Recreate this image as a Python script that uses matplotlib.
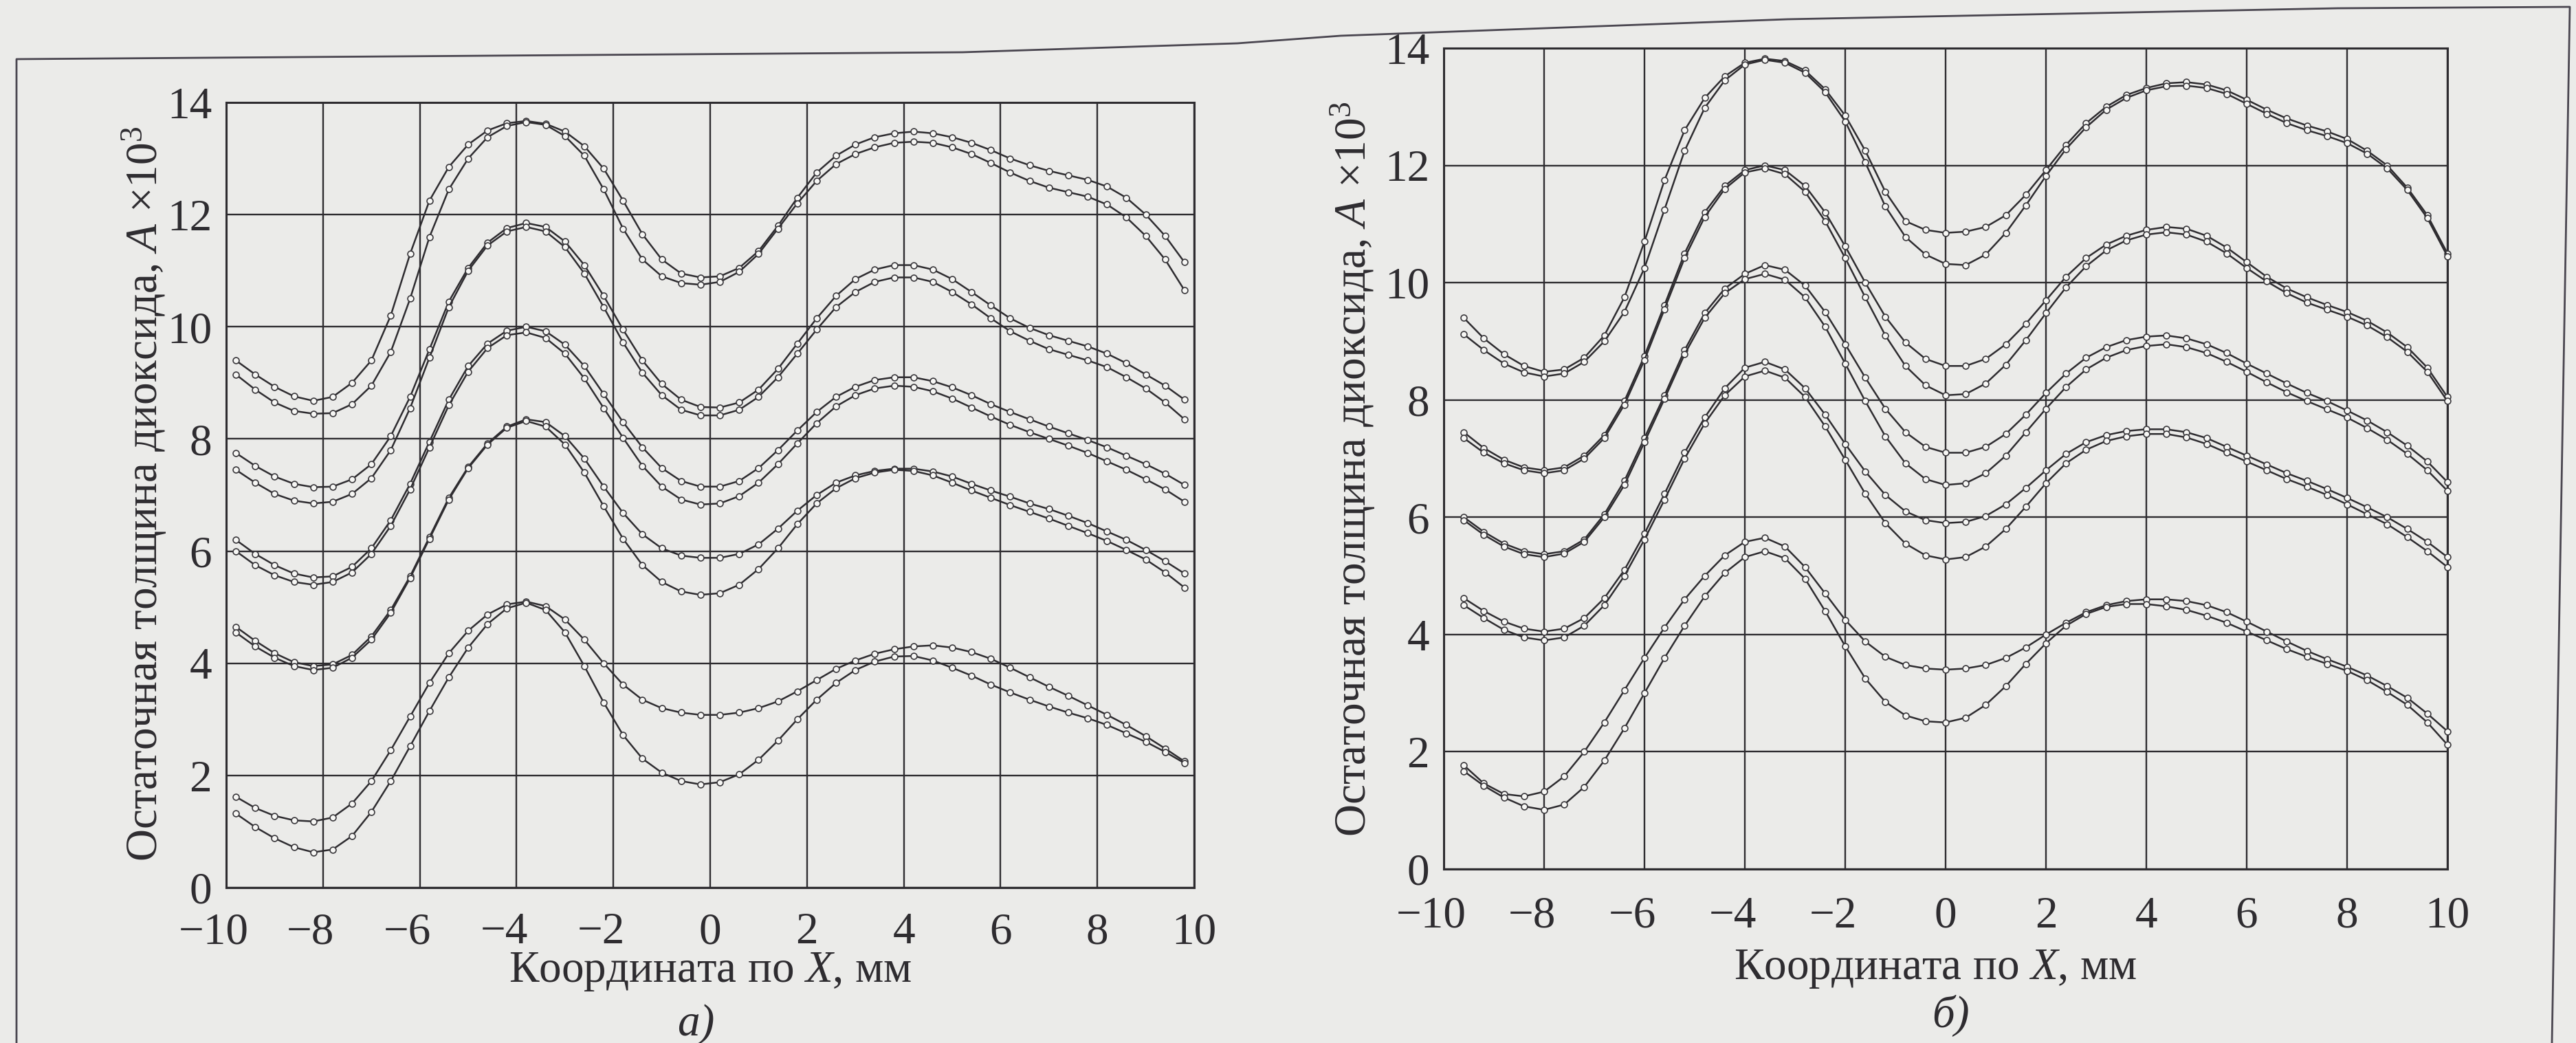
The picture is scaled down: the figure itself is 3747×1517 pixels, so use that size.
import matplotlib.pyplot as plt
import matplotlib.transforms as mtransforms
from matplotlib.lines import Line2D
import numpy as np

plt.rcParams['font.family'] = ['Liberation Serif', 'DejaVu Serif']
plt.rcParams['mathtext.fontset'] = 'custom'
plt.rcParams['mathtext.rm'] = 'Liberation Serif'
plt.rcParams['mathtext.it'] = 'Liberation Serif:italic'

# sample positions, mm (markers every 0.4 mm)
x_a = np.linspace(-9.8, 9.8, 50)
x_b = np.linspace(-9.6, 10.0, 50)

x_ticks = [-10, -8, -6, -4, -2, 0, 2, 4, 6, 8, 10]
y_ticks = [0, 2, 4, 6, 8, 10, 12, 14]

# ---- panel a) ----
a_p1_1 = [9.40, 9.15, 8.93, 8.76, 8.68, 8.75, 9.00, 9.40, 10.20, 11.30,
          12.25, 12.85, 13.25, 13.50, 13.63, 13.67, 13.62, 13.48, 13.22, 12.82,
          12.25, 11.65, 11.20, 10.95, 10.88, 10.90, 11.05, 11.35, 11.80, 12.30,
          12.75, 13.05, 13.25, 13.38, 13.45, 13.48, 13.45, 13.38, 13.28, 13.15,
          13.00, 12.88, 12.78, 12.70, 12.62, 12.50, 12.30, 12.00, 11.62, 11.15]
a_p1_2 = [9.15, 8.88, 8.65, 8.50, 8.45, 8.46, 8.62, 8.95, 9.55, 10.50,
          11.60, 12.45, 13.00, 13.38, 13.58, 13.65, 13.60, 13.40, 13.05, 12.45,
          11.75, 11.20, 10.90, 10.78, 10.75, 10.80, 10.98, 11.30, 11.75, 12.20,
          12.60, 12.90, 13.08, 13.20, 13.28, 13.30, 13.28, 13.20, 13.08, 12.92,
          12.75, 12.60, 12.48, 12.40, 12.32, 12.18, 11.95, 11.62, 11.20, 10.65]
a_p2_1 = [7.75, 7.52, 7.33, 7.20, 7.14, 7.15, 7.28, 7.55, 8.05, 8.75,
          9.60, 10.45, 11.05, 11.50, 11.76, 11.85, 11.78, 11.52, 11.10, 10.55,
          9.95, 9.40, 8.98, 8.70, 8.57, 8.56, 8.65, 8.88, 9.25, 9.70,
          10.15, 10.55, 10.85, 11.02, 11.10, 11.10, 11.02, 10.85, 10.62, 10.38,
          10.15, 9.98, 9.85, 9.75, 9.65, 9.52, 9.35, 9.15, 8.95, 8.70]
a_p2_2 = [7.45, 7.22, 7.02, 6.90, 6.85, 6.88, 7.02, 7.30, 7.80, 8.55,
          9.45, 10.35, 11.00, 11.45, 11.70, 11.78, 11.70, 11.42, 10.95, 10.35,
          9.72, 9.18, 8.78, 8.52, 8.42, 8.42, 8.52, 8.75, 9.10, 9.52,
          9.95, 10.35, 10.62, 10.80, 10.88, 10.88, 10.80, 10.62, 10.40, 10.15,
          9.92, 9.75, 9.60, 9.50, 9.40, 9.28, 9.10, 8.90, 8.65, 8.35]
a_p3_1 = [6.20, 5.95, 5.75, 5.60, 5.53, 5.55, 5.72, 6.05, 6.55, 7.20,
          7.95, 8.70, 9.30, 9.70, 9.93, 10.00, 9.92, 9.68, 9.30, 8.80,
          8.30, 7.85, 7.48, 7.25, 7.15, 7.15, 7.25, 7.48, 7.80, 8.15,
          8.48, 8.75, 8.93, 9.05, 9.10, 9.10, 9.03, 8.92, 8.78, 8.62,
          8.48, 8.35, 8.22, 8.10, 7.98, 7.85, 7.70, 7.55, 7.38, 7.18]
a_p3_2 = [6.00, 5.75, 5.57, 5.45, 5.40, 5.45, 5.62, 5.95, 6.45, 7.10,
          7.85, 8.60, 9.20, 9.62, 9.85, 9.90, 9.80, 9.52, 9.08, 8.55,
          8.02, 7.52, 7.15, 6.92, 6.83, 6.85, 6.98, 7.22, 7.55, 7.92,
          8.28, 8.58, 8.78, 8.90, 8.95, 8.93, 8.85, 8.72, 8.56, 8.40,
          8.25, 8.12, 8.00, 7.88, 7.75, 7.60, 7.45, 7.28, 7.10, 6.88]
a_p4_1 = [4.65, 4.40, 4.18, 4.02, 3.95, 3.98, 4.15, 4.48, 4.95, 5.55,
          6.25, 6.95, 7.50, 7.92, 8.22, 8.35, 8.30, 8.05, 7.65, 7.15,
          6.68, 6.30, 6.05, 5.92, 5.88, 5.88, 5.95, 6.12, 6.40, 6.72,
          7.00, 7.22, 7.35, 7.43, 7.47, 7.47, 7.42, 7.33, 7.20, 7.08,
          6.97, 6.85, 6.75, 6.63, 6.50, 6.35, 6.20, 6.02, 5.82, 5.60]
a_p4_2 = [4.55, 4.30, 4.10, 3.95, 3.88, 3.92, 4.10, 4.42, 4.90, 5.52,
          6.22, 6.92, 7.48, 7.90, 8.20, 8.32, 8.22, 7.90, 7.40, 6.80,
          6.22, 5.75, 5.45, 5.28, 5.22, 5.25, 5.40, 5.68, 6.05, 6.48,
          6.85, 7.12, 7.30, 7.40, 7.45, 7.43, 7.35, 7.22, 7.08, 6.95,
          6.82, 6.70, 6.58, 6.45, 6.32, 6.18, 6.02, 5.85, 5.62, 5.35]
a_p5_1 = [1.62, 1.42, 1.28, 1.20, 1.18, 1.25, 1.50, 1.90, 2.45, 3.05,
          3.65, 4.18, 4.58, 4.87, 5.05, 5.10, 5.02, 4.78, 4.42, 4.00,
          3.62, 3.35, 3.20, 3.12, 3.08, 3.08, 3.12, 3.20, 3.32, 3.50,
          3.70, 3.90, 4.05, 4.17, 4.25, 4.30, 4.32, 4.28, 4.20, 4.08,
          3.92, 3.75, 3.58, 3.42, 3.25, 3.08, 2.90, 2.70, 2.48, 2.25]
a_p5_2 = [1.32, 1.08, 0.88, 0.72, 0.63, 0.68, 0.92, 1.35, 1.90, 2.52,
          3.15, 3.75, 4.28, 4.70, 4.98, 5.08, 4.95, 4.55, 3.95, 3.30,
          2.72, 2.30, 2.05, 1.90, 1.84, 1.88, 2.02, 2.28, 2.62, 3.00,
          3.35, 3.65, 3.88, 4.03, 4.12, 4.13, 4.05, 3.92, 3.78, 3.62,
          3.48, 3.35, 3.23, 3.12, 3.02, 2.90, 2.75, 2.60, 2.42, 2.22]

# ---- panel б) ----
b_p1_1 = [9.40, 9.05, 8.78, 8.58, 8.48, 8.52, 8.72, 9.10, 9.75, 10.70,
          11.75, 12.60, 13.15, 13.52, 13.75, 13.82, 13.78, 13.62, 13.30, 12.85,
          12.25, 11.55, 11.05, 10.90, 10.85, 10.87, 10.95, 11.15, 11.50, 11.92,
          12.35, 12.72, 13.00, 13.20, 13.32, 13.40, 13.42, 13.38, 13.28, 13.12,
          12.95, 12.80, 12.68, 12.58, 12.45, 12.25, 12.00, 11.62, 11.15, 10.50]
b_p1_2 = [9.12, 8.85, 8.62, 8.47, 8.40, 8.45, 8.65, 9.00, 9.50, 10.25,
          11.25, 12.25, 12.98, 13.45, 13.72, 13.80, 13.75, 13.58, 13.25, 12.75,
          12.05, 11.30, 10.78, 10.48, 10.32, 10.30, 10.48, 10.85, 11.32, 11.82,
          12.28, 12.65, 12.95, 13.15, 13.28, 13.35, 13.36, 13.32, 13.22, 13.05,
          12.88, 12.72, 12.60, 12.50, 12.38, 12.20, 11.95, 11.58, 11.10, 10.45]
b_p2_1 = [7.45, 7.18, 6.98, 6.85, 6.80, 6.85, 7.05, 7.40, 7.98, 8.75,
          9.62, 10.50, 11.20, 11.65, 11.92, 12.00, 11.92, 11.65, 11.20, 10.62,
          10.00, 9.42, 8.98, 8.70, 8.58, 8.58, 8.70, 8.95, 9.30, 9.70,
          10.10, 10.42, 10.65, 10.80, 10.90, 10.95, 10.92, 10.80, 10.60, 10.35,
          10.10, 9.90, 9.75, 9.62, 9.50, 9.35, 9.15, 8.90, 8.55, 8.05]
b_p2_2 = [7.35, 7.10, 6.92, 6.80, 6.75, 6.80, 7.00, 7.35, 7.92, 8.68,
          9.55, 10.42, 11.12, 11.60, 11.88, 11.95, 11.85, 11.55, 11.05, 10.42,
          9.75, 9.10, 8.58, 8.25, 8.08, 8.10, 8.28, 8.60, 9.02, 9.48,
          9.92, 10.28, 10.55, 10.72, 10.82, 10.86, 10.82, 10.70, 10.50, 10.25,
          10.02, 9.82, 9.66, 9.54, 9.42, 9.27, 9.07, 8.82, 8.48, 7.98]
b_p3_1 = [6.00, 5.75, 5.55, 5.42, 5.37, 5.42, 5.62, 6.05, 6.62, 7.35,
          8.08, 8.85, 9.48, 9.90, 10.15, 10.30, 10.22, 9.95, 9.50, 8.95,
          8.38, 7.85, 7.45, 7.20, 7.10, 7.10, 7.20, 7.42, 7.75, 8.12,
          8.45, 8.72, 8.90, 9.02, 9.08, 9.10, 9.05, 8.95, 8.80, 8.62,
          8.45, 8.28, 8.12, 7.98, 7.82, 7.65, 7.45, 7.22, 6.95, 6.60]
b_p3_2 = [5.95, 5.70, 5.50, 5.37, 5.32, 5.38, 5.58, 6.00, 6.55, 7.28,
          8.02, 8.78, 9.40, 9.82, 10.06, 10.15, 10.05, 9.75, 9.25, 8.62,
          7.98, 7.38, 6.92, 6.65, 6.55, 6.58, 6.75, 7.05, 7.45, 7.85,
          8.22, 8.52, 8.72, 8.85, 8.92, 8.95, 8.90, 8.80, 8.65, 8.48,
          8.30, 8.13, 7.98, 7.84, 7.70, 7.52, 7.32, 7.08, 6.80, 6.45]
b_p4_1 = [4.62, 4.40, 4.22, 4.10, 4.05, 4.10, 4.28, 4.62, 5.10, 5.72,
          6.40, 7.10, 7.70, 8.20, 8.55, 8.65, 8.52, 8.20, 7.75, 7.25,
          6.78, 6.38, 6.10, 5.95, 5.90, 5.92, 6.02, 6.22, 6.50, 6.80,
          7.08, 7.28, 7.40, 7.47, 7.50, 7.50, 7.45, 7.35, 7.20, 7.05,
          6.90, 6.75, 6.62, 6.48, 6.33, 6.17, 6.00, 5.80, 5.58, 5.32]
b_p4_2 = [4.50, 4.28, 4.08, 3.95, 3.90, 3.95, 4.15, 4.50, 5.00, 5.62,
          6.30, 7.00, 7.60, 8.08, 8.40, 8.50, 8.38, 8.05, 7.55, 6.98,
          6.40, 5.90, 5.55, 5.35, 5.28, 5.32, 5.50, 5.80, 6.18, 6.58,
          6.92, 7.15, 7.30, 7.38, 7.42, 7.42, 7.36, 7.25, 7.10, 6.95,
          6.80, 6.65, 6.52, 6.38, 6.22, 6.05, 5.88, 5.66, 5.42, 5.15]
b_p5_1 = [1.77, 1.46, 1.28, 1.24, 1.32, 1.58, 2.00, 2.50, 3.05, 3.60,
          4.12, 4.60, 5.00, 5.35, 5.58, 5.65, 5.50, 5.15, 4.70, 4.25,
          3.88, 3.62, 3.48, 3.42, 3.40, 3.42, 3.48, 3.60, 3.78, 4.00,
          4.20, 4.38, 4.50, 4.57, 4.60, 4.60, 4.57, 4.50, 4.38, 4.22,
          4.05, 3.88, 3.72, 3.58, 3.45, 3.30, 3.12, 2.92, 2.65, 2.35]
b_p5_2 = [1.67, 1.42, 1.22, 1.07, 1.01, 1.10, 1.40, 1.85, 2.40, 3.00,
          3.60, 4.15, 4.65, 5.05, 5.32, 5.42, 5.30, 4.95, 4.40, 3.80,
          3.25, 2.85, 2.62, 2.52, 2.50, 2.58, 2.80, 3.12, 3.50, 3.85,
          4.15, 4.35, 4.47, 4.52, 4.52, 4.48, 4.42, 4.32, 4.20, 4.05,
          3.90, 3.75, 3.62, 3.50, 3.38, 3.22, 3.02, 2.80, 2.50, 2.12]

curves_a = [a_p1_1, a_p1_2, a_p2_1, a_p2_2, a_p3_1, a_p3_2, a_p4_1, a_p4_2, a_p5_1, a_p5_2]
curves_b = [b_p1_1, b_p1_2, b_p2_1, b_p2_2, b_p3_1, b_p3_2, b_p4_1, b_p4_2, b_p5_1, b_p5_2]

x_label = 'Координата по $\\mathit{X}$, мм'
y_label = 'Остаточная толщина диоксида, $\\mathit{A}$ ×10$^{3}$'

PAGE = '#ebebe9'
INK = '#2e2c30'
FS = 47

W, H = 3748, 1517
fig = plt.figure(figsize=(W / 100, H / 100), dpi=100, facecolor=PAGE)


def px(x, y):
    """pixel position -> figure fraction"""
    return x / W, 1 - y / H


def draw_panel(rect, x, curves, tick_y):
    ax = fig.add_axes(rect)
    ax.set_facecolor(PAGE)
    ax.set_xlim(-10, 10)
    ax.set_ylim(0, 14)
    ax.set_xticks(x_ticks)
    ax.set_yticks(y_ticks)
    ax.grid(True, color=INK, lw=1.7)
    ax.set_axisbelow(True)
    ax.tick_params(length=0, labelsize=FS, pad=15, colors=INK, labelbottom=False)
    for s in ax.spines.values():
        s.set_linewidth(2.2)
        s.set_color(INK)

    for y in curves:
        ax.plot(x, y, '-o', color=INK, lw=1.8, ms=6.4, mfc='#f7f7f5',
                mec='#3a383c', mew=1.2, zorder=3, clip_on=False)

    # x tick labels: digits centred on the tick, minus sign hanging left
    for t in x_ticks:
        dx = -0.18 if t < 0 else 0.0
        tr = ax.get_xaxis_transform() + mtransforms.ScaledTranslation(dx, 0, fig.dpi_scale_trans)
        ax.text(t, tick_y, str(t).replace('-', '\u2212'), transform=tr,
                ha='center', va='baseline', fontsize=FS, color=INK)
    return ax


# panel a) axes box in pixels: x 329..1737, y 149..1291
ax_a = draw_panel([329 / W, 1 - 1291 / H, 1408 / W, 1142 / H], x_a, curves_a, -0.071)
# panel б) axes box in pixels: x 2100..3560, y 70..1264
ax_b = draw_panel([2100 / W, 1 - 1264 / H, 1460 / W, 1194 / H], x_b, curves_b, -0.071)

# axis titles and panel letters
fig.text(*px(210, 718), y_label, rotation=90, ha='center', va='center', fontsize=FS, color=INK)
fig.text(*px(1968, 682), y_label, rotation=90, ha='center', va='center', fontsize=FS, color=INK)
fig.text(*px(1033, 1413), x_label, ha='center', va='center', fontsize=FS, color=INK)
fig.text(*px(2815, 1424), x_label, ha='center', va='baseline', fontsize=FS, color=INK)
fig.text(*px(1012, 1490), 'а)', ha='center', va='center', fontsize=FS, color=INK, style='italic')
fig.text(*px(2837, 1494), 'б)', ha='center', va='baseline', fontsize=FS, color=INK, style='italic')

# frame of the book page
frame_x = [24, 24, 1400, 1800, 1950, 2600, 3400, 3738, 3712]
frame_y = [1517, 86, 76, 63, 52, 28, 12, 10, 1517]
fx, fy = zip(*[px(a, b) for a, b in zip(frame_x, frame_y)])
fig.add_artist(Line2D(fx, fy, transform=fig.transFigure, color='#4a4650', lw=2.0))

fig.savefig('out.png', dpi=100, facecolor=PAGE)
